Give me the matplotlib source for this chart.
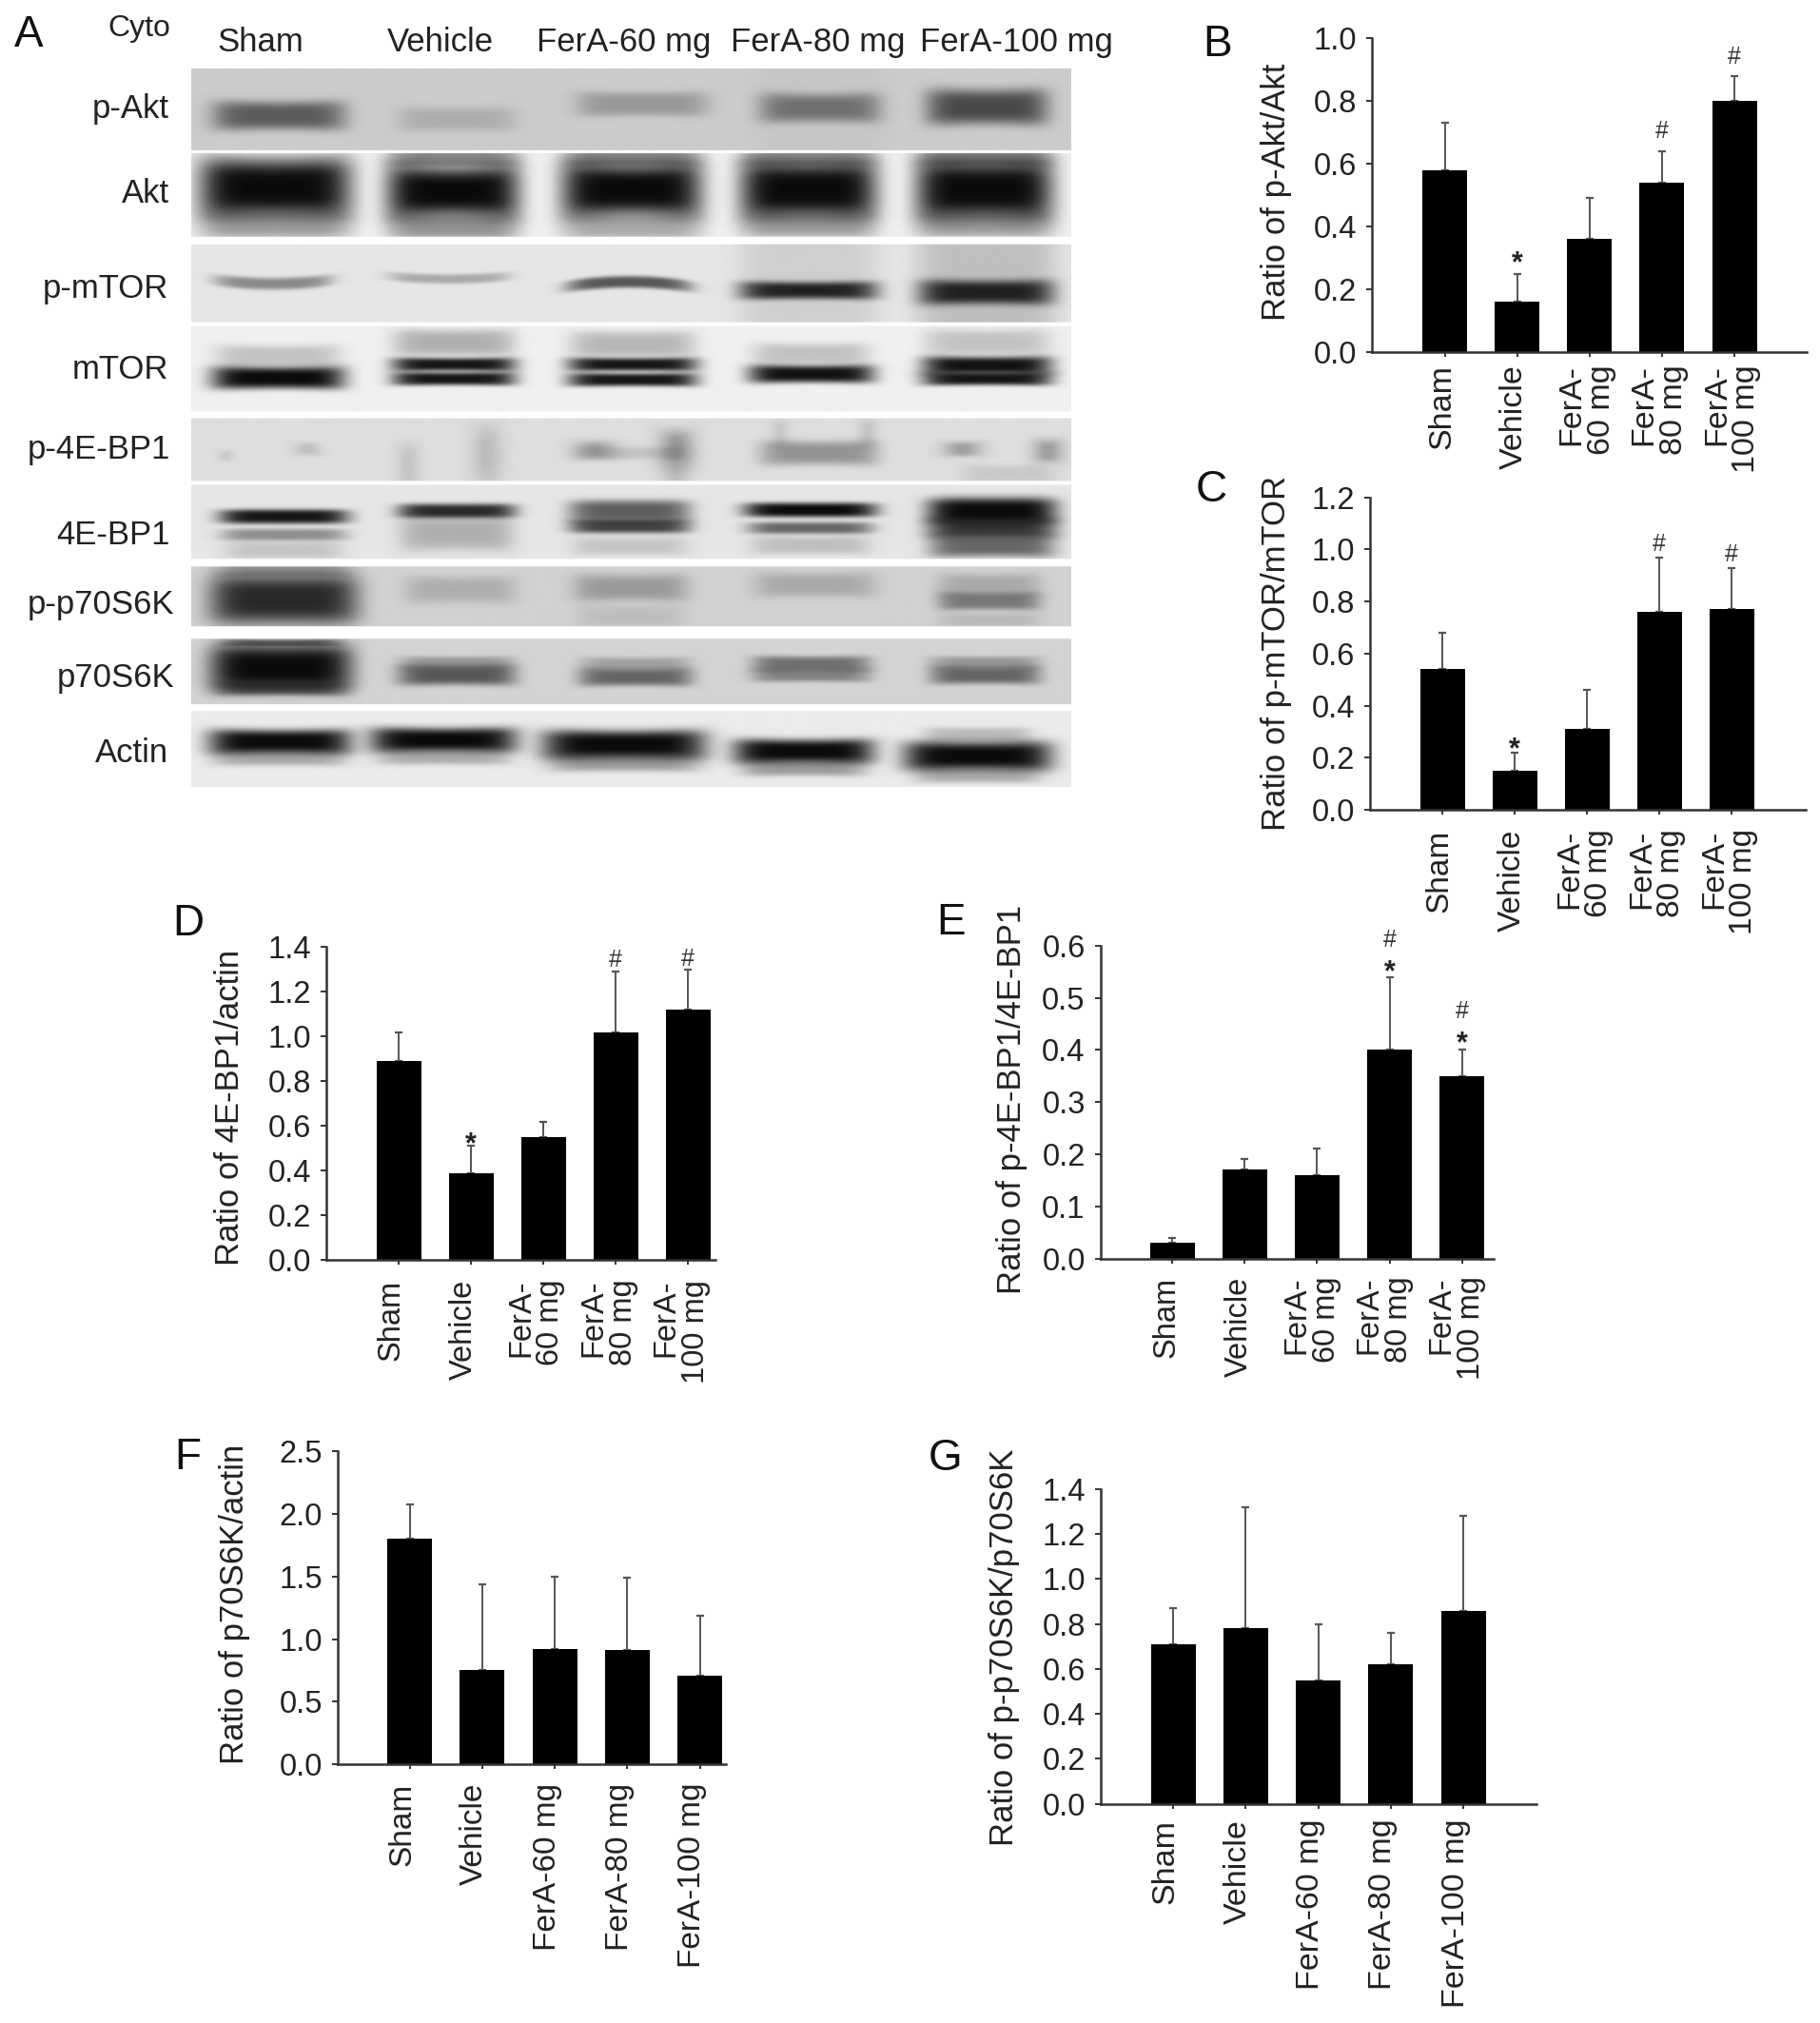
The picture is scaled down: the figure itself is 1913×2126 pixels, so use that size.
import numpy as np
import matplotlib
matplotlib.use("Agg")
import matplotlib.pyplot as plt
from matplotlib.transforms import ScaledTranslation

W, H = 1913, 2126
plt.rcParams['font.family'] = ['Liberation Sans', 'DejaVu Sans']
TXT = '#222222'

# ---------- data ----------
groups_short = ['Sham', 'Vehicle', 'FerA-60 mg', 'FerA-80 mg', 'FerA-100 mg']
groups_wrapped = ['Sham', 'Vehicle', 'FerA-\n60 mg', 'FerA-\n80 mg', 'FerA-\n100 mg']

b_vals = [0.58, 0.16, 0.36, 0.54, 0.80]
b_tops = [0.73, 0.25, 0.49, 0.64, 0.88]
c_vals = [0.54, 0.15, 0.31, 0.76, 0.77]
c_tops = [0.68, 0.22, 0.46, 0.97, 0.93]
d_vals = [0.89, 0.39, 0.55, 1.02, 1.12]
d_tops = [1.02, 0.51, 0.62, 1.29, 1.30]
e_vals = [0.03, 0.17, 0.16, 0.40, 0.35]
e_tops = [0.04, 0.19, 0.21, 0.54, 0.40]
f_vals = [1.80, 0.75, 0.92, 0.91, 0.71]
f_tops = [2.08, 1.44, 1.50, 1.49, 1.19]
g_vals = [0.71, 0.78, 0.55, 0.62, 0.86]
g_tops = [0.87, 1.32, 0.80, 0.76, 1.28]

b_ticks = [0.0, 0.2, 0.4, 0.6, 0.8, 1.0]
c_ticks = [0.0, 0.2, 0.4, 0.6, 0.8, 1.0, 1.2]
d_ticks = [0.0, 0.2, 0.4, 0.6, 0.8, 1.0, 1.2, 1.4]
e_ticks = [0.0, 0.1, 0.2, 0.3, 0.4, 0.5, 0.6]
f_ticks = [0.0, 0.5, 1.0, 1.5, 2.0, 2.5]
g_ticks = [0.0, 0.2, 0.4, 0.6, 0.8, 1.0, 1.2, 1.4]

lane_titles = ['Sham', 'Vehicle', 'FerA-60 mg', 'FerA-80 mg', 'FerA-100 mg']
blot_names = ['p-Akt', 'Akt', 'p-mTOR', 'mTOR', 'p-4E-BP1', '4E-BP1',
              'p-p70S6K', 'p70S6K', 'Actin']

fig = plt.figure(figsize=(W / 100, H / 100), dpi=100, facecolor='white')


def px_text(x, y, s, **kw):
    kw.setdefault('color', TXT)
    return fig.text(x / W, 1 - y / H, s, **kw)


# ---------- panel A: blot strips, painted as one greyscale picture ----------
X0, X1, Y0, Y1 = 201, 1126, 72, 827
xx, yy = np.meshgrid(np.arange(X0, X1 + 1), np.arange(Y0, Y1 + 1))
canvas = np.ones_like(xx, dtype=float)


def paint(top, bottom, bg, bands, lane_bg=()):
    mask = (yy >= top) & (yy <= bottom)
    light = np.ones_like(canvas)
    for (xc, hw, yc, hh, d, *rest) in list(bands):
        curve = rest[0] if len(rest) > 0 else 0
        pinch = rest[1] if len(rest) > 1 else 0.12
        u = (xx - xc) / hw
        u2 = np.clip(u ** 2, 0, 1.5)
        hloc = 1.28 * hh * (1 - pinch * (1 - u2))
        xpow = 2 if hw < 25 else 6
        prof = np.exp(-np.abs(u) ** xpow) * np.exp(-np.abs((yy - yc - curve * u2) / hloc) ** 3.5)
        light *= 1 - np.clip(d, 0, 1) * prof
    g = np.full_like(canvas, bg)
    for (xc, hw, val) in lane_bg:
        g = g * (1 - val * np.exp(-np.abs((xx - xc) / hw) ** 6))
    canvas[mask] = (0.04 + (g - 0.04) * light)[mask]


paint(72, 157, 0.80, [
    (293, 70, 121, 13, 0.58), (480, 62, 125, 11, 0.16), (675, 70, 109, 11, 0.27),
    (862, 64, 113, 13, 0.46), (1038, 64, 112, 16, 0.68)],
    lane_bg=[(862, 70, 0.03)])
paint(161, 248, 0.94, [
    (289, 80, 197, 27, 1.0), (476, 70, 201, 25, 1.0, 0, 0.2), (664, 74, 199, 26, 1.0, 0, 0.2),
    (850, 72, 199, 26, 1.0), (1035, 72, 199, 27, 1.0),
    (289, 78, 236, 13, 0.35), (476, 68, 238, 12, 0.4), (664, 72, 238, 12, 0.3),
    (850, 70, 236, 12, 0.35), (1035, 70, 236, 12, 0.35),
    (476, 68, 166, 8, 0.45), (664, 70, 166, 8, 0.45), (850, 70, 166, 8, 0.4), (1035, 70, 166, 8, 0.45)])
paint(257, 338, 0.90, [
    (287, 62, 298, 5, 0.42, -4, 0), (472, 64, 293, 4, 0.27, -3, 0), (661, 66, 296, 5, 0.65, 5, 0),
    (850, 72, 305, 8, 0.88), (1037, 70, 307, 11, 0.88)],
    lane_bg=[(850, 74, 0.1), (1037, 74, 0.17)])
paint(343, 432, 0.94, [
    (292, 70, 397, 10, 1.0), (292, 66, 374, 10, 0.2),
    (477, 65, 383, 6, 0.95), (477, 65, 398, 6, 0.95), (477, 64, 360, 12, 0.28),
    (665, 68, 383, 6, 0.95), (665, 68, 399, 6, 0.95), (665, 66, 362, 12, 0.25),
    (853, 66, 393, 8, 0.97), (853, 62, 372, 10, 0.2),
    (1038, 68, 384, 8, 0.97), (1038, 68, 398, 6, 0.95), (1038, 66, 360, 12, 0.2)])
paint(440, 505, 0.87, [
    (237, 8, 479, 5, 0.10), (323, 14, 472, 6, 0.14),
    (429, 12, 490, 22, 0.12), (512, 16, 478, 28, 0.16),
    (625, 22, 473, 9, 0.27), (711, 18, 472, 18, 0.34), (711, 14, 500, 10, 0.15), (665, 60, 476, 6, 0.12),
    (861, 62, 476, 11, 0.35), (820, 10, 455, 14, 0.1), (912, 10, 455, 14, 0.12),
    (1012, 20, 472, 7, 0.3), (1102, 16, 474, 11, 0.3), (1060, 50, 498, 8, 0.1)])
paint(510, 587, 0.90, [
    (298, 68, 543, 6, 0.95, 0, 0), (298, 66, 562, 5, 0.4, 0, 0), (298, 62, 578, 8, 0.15),
    (480, 62, 537, 6, 0.85, 0, 0), (480, 60, 560, 16, 0.25),
    (662, 64, 537, 9, 0.62, 0, 0), (662, 64, 553, 6, 0.75, 0, 0), (662, 60, 574, 8, 0.15),
    (852, 70, 536, 6, 1.0, 0, 0), (852, 66, 555, 5, 0.58, 0, 0), (852, 62, 573, 8, 0.18),
    (1043, 68, 537, 11, 1.0, 0, 0), (1043, 68, 555, 9, 0.8, 0, 0), (1043, 66, 574, 10, 0.58)])
paint(596, 658, 0.82, [
    (298, 78, 630, 21, 0.85, 0, 0.05), (298, 70, 600, 6, 0.3),
    (484, 58, 620, 12, 0.18), (663, 60, 618, 12, 0.28), (663, 56, 648, 10, 0.1),
    (857, 64, 615, 11, 0.2), (1040, 54, 632, 8, 0.45), (1040, 54, 615, 10, 0.2), (1040, 54, 652, 6, 0.12)])
paint(672, 740, 0.83, [
    (295, 75, 702, 20, 1.0, 0, 0.05), (295, 68, 724, 6, 0.55), (295, 62, 676, 3, 0.5),
    (480, 62, 710, 9, 0.62), (480, 60, 697, 6, 0.3),
    (668, 60, 712, 8, 0.55), (668, 58, 698, 6, 0.25),
    (853, 62, 698, 7, 0.5), (853, 62, 710, 6, 0.4),
    (1036, 58, 710, 8, 0.55), (1036, 58, 697, 6, 0.3)])
paint(748, 827, 0.92, [
    (294, 75, 780, 11, 1.0), (294, 70, 797, 7, 0.3),
    (466, 77, 778, 11, 1.0), (466, 70, 796, 7, 0.28),
    (656, 86, 783, 13, 1.0), (656, 80, 802, 8, 0.35),
    (845, 74, 790, 11, 1.0), (845, 66, 808, 7, 0.35),
    (1028, 78, 795, 13, 1.0), (1028, 66, 815, 7, 0.28), (1028, 56, 773, 7, 0.22)])

ax_blot = fig.add_axes([X0 / W, 1 - Y1 / H, (X1 - X0) / W, (Y1 - Y0) / H])
ax_blot.imshow(canvas, cmap='gray', vmin=0, vmax=1, aspect='auto', interpolation='bilinear',
               extent=(X0, X1, Y1, Y0))
ax_blot.axis('off')

title_cx = [274, 463, 656, 860, 1068]
for cx, s in zip(title_cx, lane_titles):
    px_text(cx, 54, s, fontsize=25, ha='center', va='baseline')
px_text(146, 38, 'Cyto', fontsize=23, ha='center', va='baseline')

row_right = [178, 178, 177, 177, 179, 179, 183, 183, 177]
row_base = [124, 213, 313, 398, 482, 572, 645, 722, 801]
for rx, by, s in zip(row_right, row_base, blot_names):
    px_text(rx, by, s, fontsize=25, ha='right', va='baseline')


# ---------- bar panels ----------
def bar_panel(vals, tops, ticks, labels, ylabel, axis_x, xend, y_top, y_zero, c0, c4,
              marks, tick_fs, label_fs, xtick_fs, xpad, yl_x, yl_y, dx):
    s = (c4 - c0) / 4
    ax = fig.add_axes([axis_x / W, 1 - y_zero / H, (xend - axis_x) / W, (y_zero - y_top) / H])
    ax.patch.set_alpha(0)
    x = np.arange(len(vals))
    v = np.array(vals)
    t = np.array(tops)
    ax.errorbar(x, v, yerr=[np.zeros_like(v), t - v], fmt='none', ecolor='#555555',
                elinewidth=1.4, capsize=3, capthick=1.6, zorder=1)
    ax.bar(x, v, width=47 / s, color='black', zorder=2)
    ax.set_xlim((axis_x - c0) / s, (xend - c0) / s)
    ax.set_ylim(0, ticks[-1])
    for sp in ('top', 'right'):
        ax.spines[sp].set_visible(False)
    for sp in ('left', 'bottom'):
        ax.spines[sp].set_linewidth(1.8)
        ax.spines[sp].set_color('#333333')
    ax.set_yticks(ticks, [f'{q:.1f}' for q in ticks], fontsize=tick_fs, color=TXT)
    ax.tick_params(axis='y', length=4.5, width=1.4, pad=7, color='#333333')
    ax.set_xticks(x, labels, fontsize=xtick_fs, color=TXT, rotation=90, ha='center', va='top',
                  ma='right', linespacing=1.02)
    ax.tick_params(axis='x', length=3.6, width=1.4, pad=xpad, color='#333333')
    shift = ScaledTranslation(dx / 100, 0, fig.dpi_scale_trans)
    for lab in ax.get_xticklabels():
        lab.set_transform(lab.get_transform() + shift)
    for idx, sym, above in marks:
        # ink of '*' sits high in the glyph, so it is placed from its baseline
        if sym == '*':
            ax.annotate('*', (idx, tops[idx]), xytext=(0, (above - 17.5) * 0.72), textcoords='offset points',
                        ha='center', va='baseline', fontsize=22, fontweight='bold', color=TXT)
        else:
            ax.annotate('#', (idx, tops[idx]), xytext=(0, above * 0.72), textcoords='offset points',
                        ha='center', va='center', fontsize=18, color='#333333')
    px_text(yl_x, yl_y, ylabel, fontsize=label_fs, rotation=90, ha='center', va='center')
    return ax


bar_panel(b_vals, b_tops, b_ticks, groups_wrapped, 'Ratio of p-Akt/Akt',
          1442, 1899, 40, 370, 1518.5, 1823,
          [(1, '*', 20), (3, '#', 21), (4, '#', 20)],
          23.5, 25, 24.5, 6, 1341, 202, -3)
bar_panel(c_vals, c_tops, c_ticks, groups_wrapped, 'Ratio of p-mTOR/mTOR',
          1440, 1898, 522.7, 851, 1516.4, 1820,
          [(1, '*', 12), (3, '#', 14), (4, '#', 14)],
          23.5, 25, 24, 11, 1341, 686, -3)
bar_panel(d_vals, d_tops, d_ticks, groups_wrapped, 'Ratio of 4E-BP1/actin',
          343, 752, 995.4, 1324.3, 419.2, 723.3,
          [(1, '*', 11), (3, '#', 12), (4, '#', 11)],
          23.5, 25, 23.5, 11, 241.6, 1164, -8)
bar_panel(e_vals, e_tops, e_ticks, groups_wrapped, 'Ratio of p-4E-BP1/4E-BP1',
          1156.7, 1570, 993.7, 1322.6, 1232.2, 1536.7,
          [(3, '*', 14), (3, '#', 39), (4, '*', 16), (4, '#', 40)],
          23.5, 25, 23.5, 10, 1064, 1155.5, -6)
bar_panel(f_vals, f_tops, f_ticks, groups_short, 'Ratio of p70S6K/actin',
          355, 763, 1525.4, 1854, 430.6, 735.5,
          [], 23.5, 25, 24, 10.5, 246.5, 1686, -8)
bar_panel(g_vals, g_tops, g_ticks, groups_short, 'Ratio of p-p70S6K/p70S6K',
          1157.3, 1615, 1565, 1895.7, 1233.2, 1538,
          [], 23.5, 25, 24.5, 8, 1055, 1731, -8)

# ---------- panel letters ----------
letters = ['A', 'B', 'C', 'D', 'E', 'F', 'G']
letter_x = [30, 1280, 1273, 197.5, 1000, 197, 994]
letter_y = [37, 47, 515, 971, 970, 1532, 1533]
for s, lx, ly in zip(letters, letter_x, letter_y):
    px_text(lx, ly, s, fontsize=33, ha='center', va='center', color='#111111')

fig.savefig('out.png', dpi=100, facecolor='white')
